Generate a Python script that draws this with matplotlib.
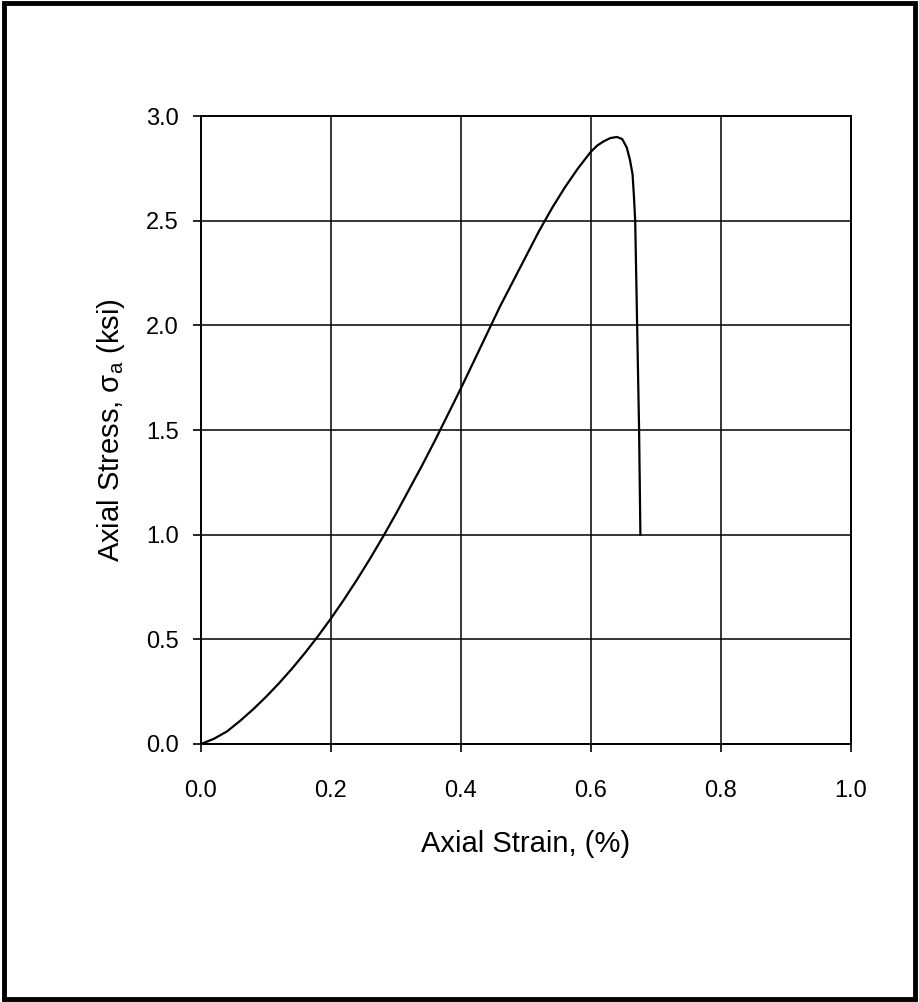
import numpy as np
import matplotlib
matplotlib.use("Agg")
from matplotlib import pyplot as plt
from matplotlib.patches import Rectangle

# stress-strain curve
strain = [0.00, 0.02, 0.04, 0.06, 0.08, 0.10, 0.12, 0.14, 0.16, 0.18,
          0.20, 0.22, 0.24, 0.26, 0.28, 0.30, 0.32, 0.34, 0.36, 0.38,
          0.40, 0.42, 0.44, 0.46, 0.48, 0.50, 0.52, 0.54, 0.56, 0.58,
          0.60, 0.61, 0.62, 0.63, 0.64, 0.648, 0.655, 0.660, 0.664,
          0.666, 0.668, 0.671, 0.674, 0.676]
stress = [0.00, 0.025, 0.06, 0.11, 0.165, 0.225, 0.29, 0.36, 0.435, 0.515,
          0.60, 0.69, 0.785, 0.885, 0.99, 1.10, 1.215, 1.33, 1.45, 1.575,
          1.70, 1.83, 1.96, 2.09, 2.21, 2.33, 2.45, 2.56, 2.66, 2.75,
          2.83, 2.86, 2.88, 2.895, 2.90, 2.89, 2.85, 2.79, 2.72,
          2.62, 2.50, 2.00, 1.50, 1.00]

x_ticks = [0.0, 0.2, 0.4, 0.6, 0.8, 1.0]
y_ticks = [0.0, 0.5, 1.0, 1.5, 2.0, 2.5, 3.0]

plt.rcParams["font.family"] = ["Liberation Sans", "DejaVu Sans"]

fig = plt.figure(figsize=(9.19, 10.02), dpi=100)
ax = fig.add_axes([0.2187, 0.2575, 0.7073, 0.6267])

ax.plot(strain, stress, color="black", lw=1.6)

ax.set_xlim(0, 1.0)
ax.set_ylim(0, 3.0)
ax.set_xticks(x_ticks)
ax.set_yticks(y_ticks)
ax.set_xticklabels([f"{v:.1f}" for v in x_ticks])
ax.set_yticklabels([f"{v:.1f}" for v in y_ticks])
ax.tick_params(direction="out", length=6, width=1.2, labelsize=17,
               colors="black")
ax.tick_params(axis="x", pad=20)
ax.tick_params(axis="y", pad=10)
ax.grid(True, color="black", lw=1.1)
for sp in ax.spines.values():
    sp.set_linewidth(1.4)
    sp.set_color("black")

ax.set_xlabel("Axial Strain, (%)", fontsize=21, labelpad=20)
ax.set_ylabel(r"Axial Stress, $\mathregular{\sigma_a}$ (ksi)", fontsize=21,
              labelpad=14)

# outer frame around the whole picture
fig.patches.append(Rectangle((0.004, 0.003), 0.992, 0.994,
                             transform=fig.transFigure, fill=False,
                             edgecolor="black", lw=3.5))

fig.savefig("out.png", dpi=100)
